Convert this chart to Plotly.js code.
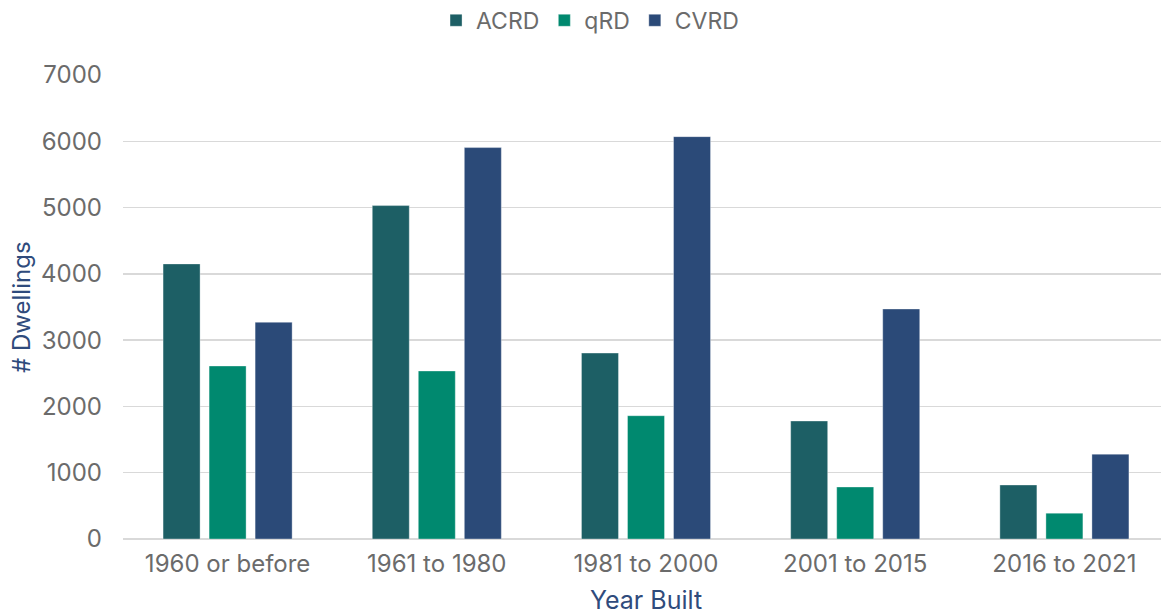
<!DOCTYPE html>
<html><head><meta charset="utf-8">
<script src="https://cdn.plot.ly/plotly-3.0.1.min.js"></script>
<style>html,body{margin:0;padding:0;overflow:hidden;background:#fff}#chart{width:1169px;height:615px}</style>
</head><body><div id="chart"></div>
<script>
const categories = ["1960 or before", "1961 to 1980", "1981 to 2000", "2001 to 2015", "2016 to 2021"];
const acrd = [4150, 5030, 2805, 1780, 815];
const qrd  = [2610, 2535, 1860, 785, 390];
const cvrd = [3270, 5905, 6070, 3470, 1280];
const seriesNames = ["ACRD", "qRD", "CVRD"];
const colors = ["#1D5F65", "#00896F", "#2B4A78"];
const yTicks = [0, 1000, 2000, 3000, 4000, 5000, 6000, 7000];

const font = "Inter, 'Open Sans', sans-serif";
const data = [acrd, qrd, cvrd].map((v, i) => ({
  type: "bar", x: categories, y: v, name: seriesNames[i],
  marker: {color: colors[i], line: {color: "rgba(255,255,255,0.35)", width: 1}},
  hoverinfo: "x+y+name"
}));
const layout = {
  width: 1169, height: 615,
  margin: {l: 123, r: 0, t: 75, b: 76},
  paper_bgcolor: "#fff", plot_bgcolor: "#fff",
  font: {family: font, color: "#6b6b6b", size: 23},
  barmode: "group", bargap: 0.34, bargroupgap: 0.196,
  showlegend: true,
  legend: {orientation: "h", x: 0.4465, xanchor: "center", y: 0.932, yanchor: "bottom",
           yref: "container", font: {size: 23, color: "#6b6b6b"}, itemwidth: 30, tracegroupgap: 0},
  xaxis: {
    type: "category", tickfont: {size: 24, color: "#6b6b6b"},
    showgrid: false, showline: false, ticks: "", ticklabelstandoff: 8,
    title: {text: "Year Built", font: {size: 25, color: "#2F4B7C"}, standoff: 14}
  },
  yaxis: {
    range: [0, 7000], tickvals: yTicks, ticktext: yTicks.map(String),
    tickfont: {size: 24, color: "#6b6b6b"},
    showgrid: true, gridcolor: "#D9D9D9", gridwidth: 1.5,
    zeroline: true, zerolinecolor: "#D9D9D9", zerolinewidth: 1.5,
    showline: false, ticks: "", ticklabelstandoff: 20
  },
  annotations: [{
    text: "# Dwellings", textangle: -90, showarrow: false,
    xref: "paper", yref: "paper", x: (22 - 123) / 1046, xanchor: "center",
    y: 0.498, yanchor: "middle",
    font: {family: font, size: 24, color: "#2F4B7C"}
  }]
};
Plotly.newPlot("chart", data, layout, {displayModeBar: false, staticPlot: true});
</script></body></html>
